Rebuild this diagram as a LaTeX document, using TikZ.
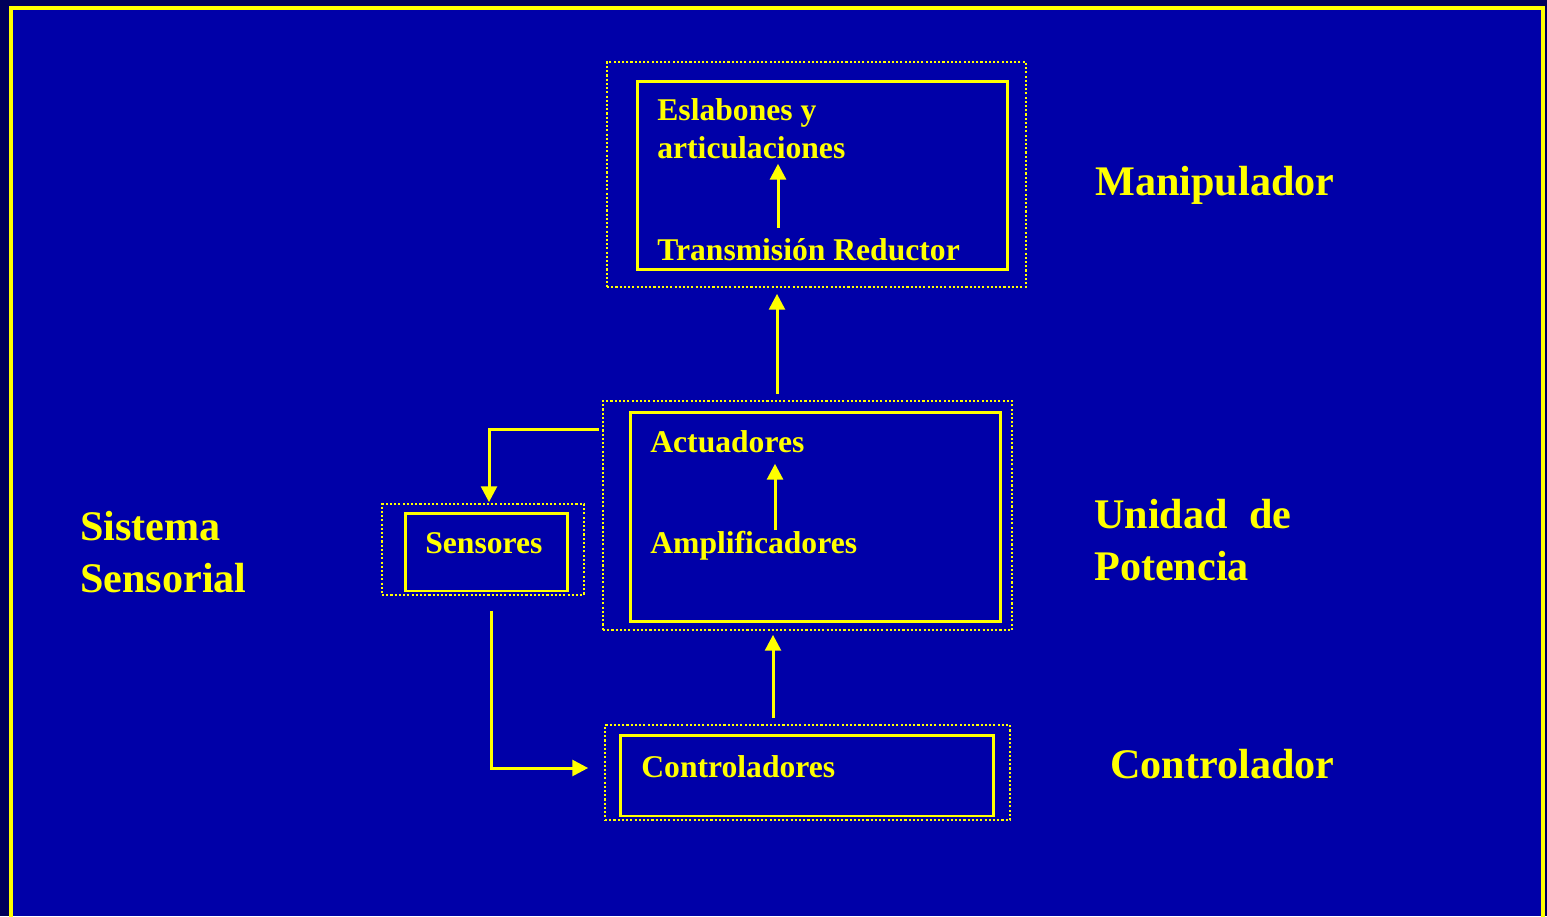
\documentclass[tikz,border=0pt]{standalone}
\usepackage{fontspec}
\setmainfont{Liberation Serif}
\usetikzlibrary{arrows.meta}
\definecolor{fondo}{HTML}{0000A8}
\definecolor{margen}{HTML}{00005A}
\definecolor{amarillo}{HTML}{FFFF00}

\begin{document}
\begin{tikzpicture}[x=0.02cm,y=-0.02cm,
	caja/.style={draw=amarillo,line width=1.7pt,inner sep=0pt},
	punteada/.style={draw=amarillo,line width=1pt,dash pattern=on 1.2pt off 1.2pt,inner sep=0pt},
	texto/.style={text=amarillo,font=\fontsize{18}{22}\selectfont\bfseries,anchor=base west,inner sep=0pt},
	titulo/.style={text=amarillo,font=\fontsize{24}{29}\selectfont\bfseries,anchor=base west,inner sep=0pt},
	flecha/.style={draw=amarillo,line width=1.7pt,-{Triangle[width=9pt,length=9pt]}}]

\useasboundingbox (0,0) rectangle (1547,916);
\fill[margen] (0,0) rectangle (1547,916);
\fill[fondo] (11,8) rectangle (1543,916);
\draw[amarillo,line width=2pt] (11,930) -- (11,8) -- (1543,8) -- (1543,930);

% columnas de las flechas
\coordinate (c1) at (778,0);
\coordinate (c2) at (777,0);
\coordinate (c3) at (775,0);
\coordinate (c4) at (773,0);

% Manipulador
\node[punteada,minimum width=8.38cm,minimum height=4.5cm] (manipOut) at (816.5,174.5) {};
\node[caja,minimum width=7.42cm,minimum height=3.78cm] (manipIn) at (822.5,175.5) {};
\node[texto] (esl) at (657,120) {Eslabones y};
\node[texto] (artic) at (657,158) {articulaciones};
\node[texto] (trans) at (657,260) {Transmisión Reductor};

% Unidad de potencia
\node[punteada,minimum width=8.18cm,minimum height=4.58cm] (potOut) at (807.5,515.5) {};
\node[caja,minimum width=7.42cm,minimum height=4.2cm] (potIn) at (815.5,517) {};
\node[texto] (actu) at (650,452) {Actuadores};
\node[texto] (ampl) at (650,553) {Amplificadores};

% Sensores
\node[punteada,minimum width=4.04cm,minimum height=1.82cm] (sensOut) at (483,549.5) {};
\node[caja,minimum width=3.26cm,minimum height=1.56cm] (sensIn) at (486.5,552) {};
\node[texto] (sens) at (425,553) {Sensores};

% Controlador
\node[punteada,minimum width=8.1cm,minimum height=1.9cm] (ctrlOut) at (807.5,772.5) {};
\node[caja,minimum width=7.48cm,minimum height=1.62cm] (ctrlIn) at (807,775.5) {};
\node[texto] (ctrl) at (641,777) {Controladores};

% titulos
\node[titulo] (tManip) at (1095,195) {Manipulador};
\node[titulo] (tUnidad) at (1094,528) {Unidad\ \ de};
\node[titulo] (tPot) at (1094,580) {Potencia};
\node[titulo] (tCtrl) at (1110,778) {Controlador};
\node[titulo] (tSist) at (80,540) {Sistema};
\node[titulo] (tSens) at (80,592) {Sensorial};

\draw[flecha,shorten <=0.2cm,shorten >=0.1cm] (trans.north -| c1) -- (artic.south -| c1);
\draw[flecha,shorten <=0.12cm,shorten >=0.12cm] (potOut.north -| c2) -- (manipOut.south -| c2);
\draw[flecha,shorten >=0.22cm] (ampl.north -| c3) -- (actu.south -| c3);
\draw[flecha,shorten <=0.12cm,shorten >=0.08cm] (ctrlOut.north -| c4) -- (potOut.south -| c4);
\draw[flecha] ([xshift=-0.06cm,yshift=-0.58cm]potOut.north west) -| ([xshift=0.12cm,yshift=0.02cm]sensOut.north);
\draw[flecha] ([xshift=0.16cm,yshift=-0.3cm]sensOut.south) |- ([xshift=-0.32cm,yshift=0.09cm]ctrlOut.west);

\end{tikzpicture}
\end{document}
